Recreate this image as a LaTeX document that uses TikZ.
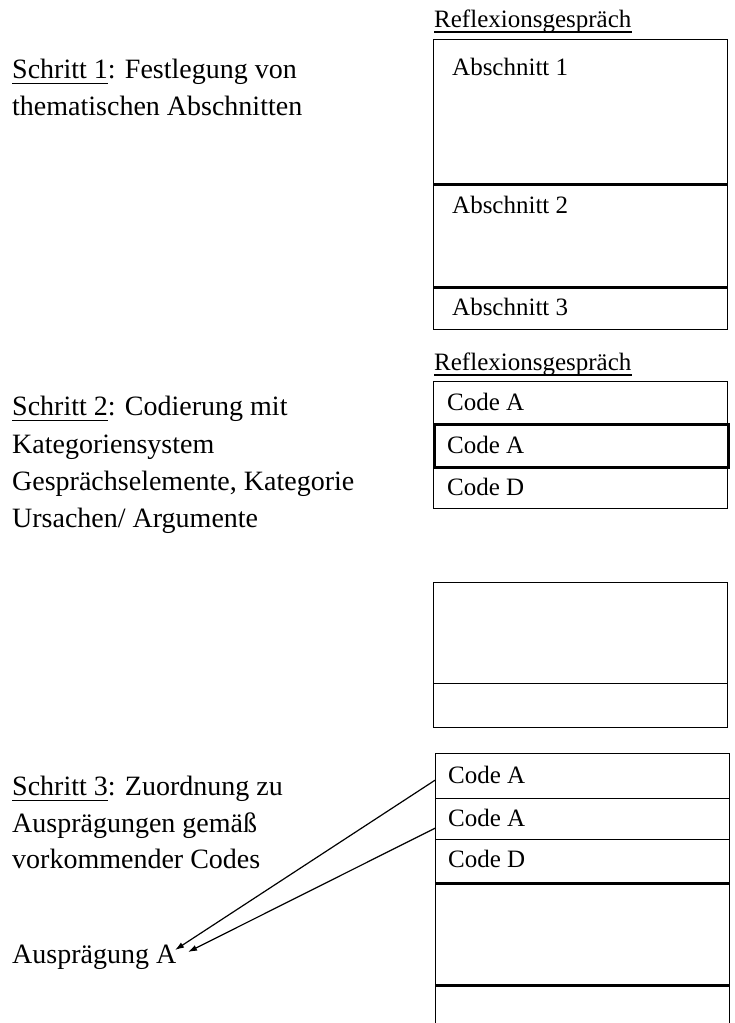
\documentclass[tikz,border=0pt]{standalone}
\usepackage{fontspec}
\setmainfont{Liberation Serif}
\usetikzlibrary{arrows.meta}
% underline set just below the baseline, like a word processor does
\newcommand\uword[1]{\setbox0\hbox{#1}\rlap{\rule[-6pt]{\wd0}{1.2pt}}#1}
\begin{document}
\begin{tikzpicture}[x=1pt,y=-1pt,
  cell/.style={draw, line width=1.4pt, anchor=north west, inner sep=0pt,
               minimum width=294pt},
  heavy/.style={line width=3pt},
  steptext/.style={anchor=base west, inner sep=0pt, font=\fontsize{28}{37}\selectfont},
  boxtext/.style={anchor=base west, inner sep=0pt, font=\fontsize{25}{30}\selectfont},
  link/.style={line width=1.2pt, -{Latex[length=9pt,width=6pt]}}]
\useasboundingbox[fill=white] (0,0) rectangle (734,1023);

% ---------- Schritt 1 ----------
\node[boxtext] (h1) at (434,27) {Reflexionsgespräch};
\draw[line width=1.2pt] ([yshift=-5pt]h1.base west) -- ([yshift=-5pt]h1.base east);
\node[cell, minimum height=145pt] (a1) at (433,39) {};
\node[cell, minimum height=103pt] (a2) at (433,184) {};
\node[cell, minimum height=42pt] (a3) at (433,287) {};
\draw[heavy] (a2.north west) -- (a2.north east);
\draw[heavy] (a3.north west) -- (a3.north east);
\node[boxtext] at (452,75) {Abschnitt 1};
\node[boxtext] at (452,213) {Abschnitt 2};
\node[boxtext] at (452,315) {Abschnitt 3};

\node[steptext] (s1a) at (12,78) {\uword{Schritt 1}: Festlegung von};
\node[steptext] (s1b) at (12,115) {thematischen Abschnitten};

% ---------- Schritt 2 ----------
\node[boxtext] (h2) at (434,370) {Reflexionsgespräch};
\draw[line width=1.2pt] ([yshift=-5pt]h2.base west) -- ([yshift=-5pt]h2.base east);
\node[cell, minimum height=42pt] (c1) at (433,381) {};
\node[cell, minimum height=43pt, heavy] (c2) at (433,423) {};
\node[cell, minimum height=42pt] (c3) at (433,466) {};
\node[boxtext] at (447,410) {Code A};
\node[boxtext] at (447,453) {Code A};
\node[boxtext] at (447,495) {Code D};

\node[steptext] at (12,415) {\uword{Schritt 2}: Codierung mit};
\node[steptext] at (12,453) {Kategoriensystem};
\node[steptext] at (12,490) {Gesprächselemente, Kategorie};
\node[steptext] at (12,527) {Ursachen/ Argumente};

% ---------- empty sheet ----------
\node[cell, minimum height=101pt] (e1) at (433,582) {};
\node[cell, minimum height=44pt] (e2) at (433,683) {};

% ---------- Schritt 3 ----------
\node[cell, minimum height=45pt] (d1) at (435,753) {};
\node[cell, minimum height=41pt] (d2) at (435,798) {};
\node[cell, minimum height=44pt] (d3) at (435,839) {};
\node[cell, minimum height=102pt] (d4) at (435,883) {};
\node[cell, minimum height=60pt] (d5) at (435,985) {};
\draw[heavy] (d4.north west) -- (d4.north east);
\draw[heavy] (d5.north west) -- (d5.north east);
\node[boxtext] at (448,783) {Code A};
\node[boxtext] at (448,826) {Code A};
\node[boxtext] at (448,867) {Code D};

\node[steptext] at (12,795) {\uword{Schritt 3}: Zuordnung zu};
\node[steptext] at (12,832) {Ausprägungen gemäß};
\node[steptext] at (12,868) {vorkommender Codes};
\node[steptext] (aus) at (12,963) {Ausprägung A};

% arrows from the coded rows to the characteristic
\coordinate (t1) at (175,950);
\coordinate (t2) at (188,952);
\draw[link] ([yshift=-4pt]d1.west) -- (t1);
\draw[link] ([yshift=-9pt]d2.west) -- (t2);
\end{tikzpicture}
\end{document}
